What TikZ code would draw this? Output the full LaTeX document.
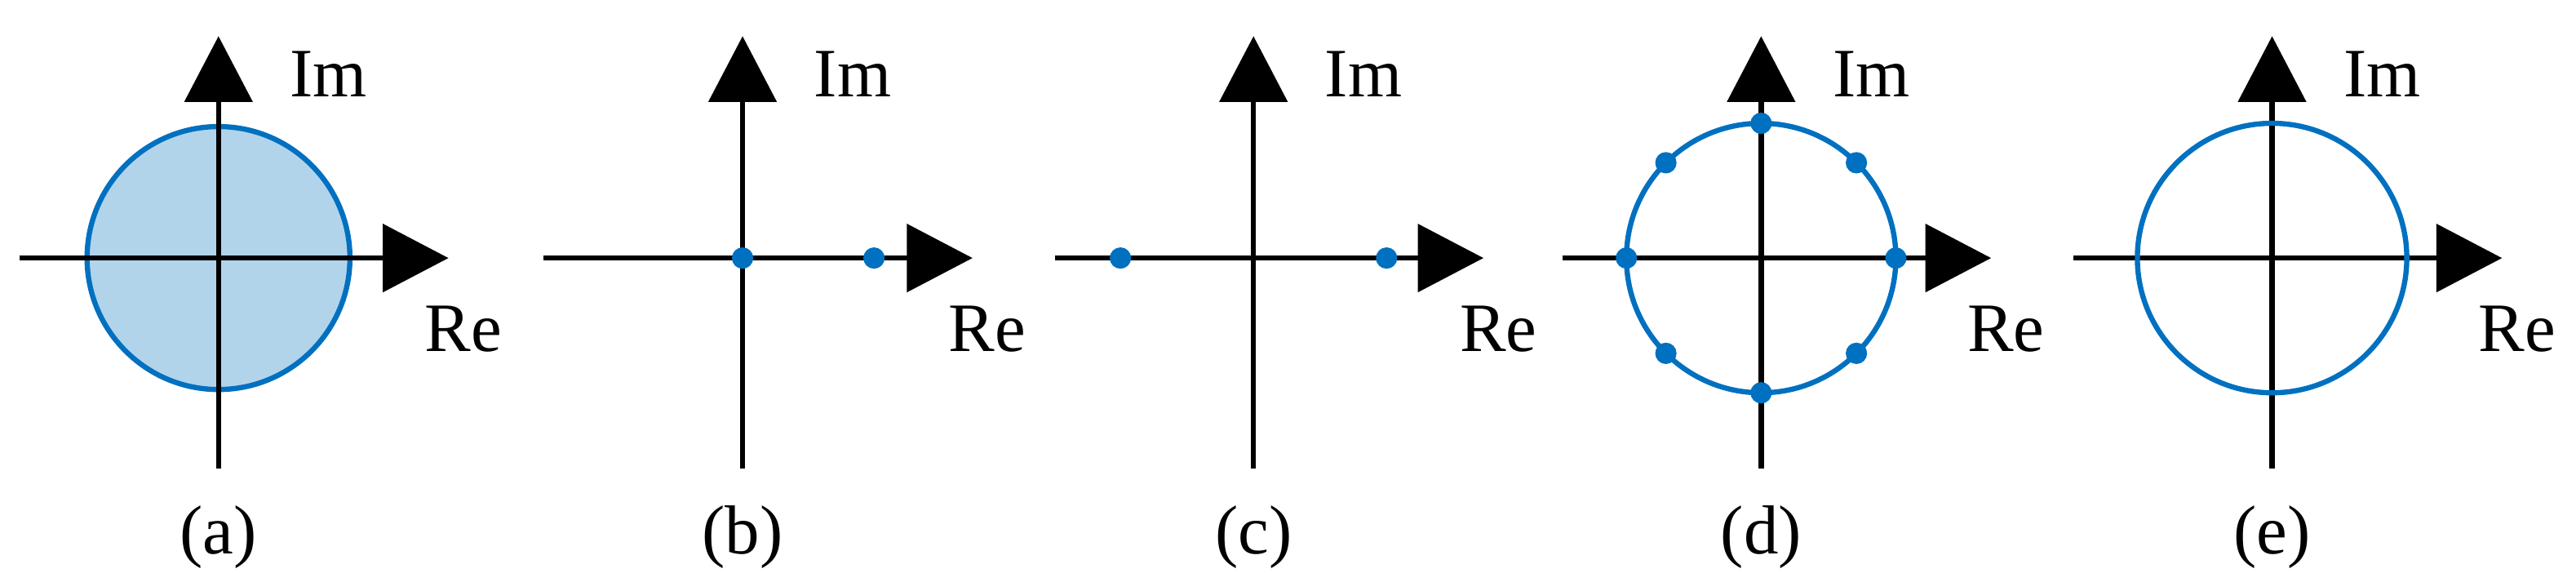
\documentclass[tikz,border=0pt]{standalone}
\usepackage{fontspec}
\setmainfont{Liberation Serif}
\usetikzlibrary{arrows.meta, positioning, calc}
\definecolor{zblue}{RGB}{0,112,192}
\definecolor{zfill}{RGB}{178,212,235}
\tikzset{
  axis/.style={line width=0.9pt, -{Triangle[length=4mm,width=4.1mm]}},
  unit/.style={zblue, line width=0.9pt},
  root/.style={circle, fill=zblue, inner sep=0pt, minimum size=1.3mm},
  lbl/.style={font=\fontsize{12}{14}\selectfont, inner sep=0pt}
}
\begin{document}
\begin{tikzpicture}[x=0.1mm, y=-0.1mm]
\useasboundingbox (0,0) rectangle (1568,354);

% axes for all five panels
\foreach \cx/\tag in {133/a,452/b,763/c,1072/d,1383/e} {
  \coordinate (o\tag) at (\cx,157);
  \coordinate (w\tag) at (\cx-121,157);
  \coordinate (e\tag) at (\cx+140,157);
  \coordinate (s\tag) at (\cx,285);
  \coordinate (n\tag) at (\cx,22);
}

% (a) filled disk
\filldraw[unit, fill=zfill] (oa) circle (80);

\foreach \tag in {a,b,c,d,e} {
  \draw[axis] (w\tag) -- (e\tag);
  \draw[axis] (s\tag) -- (n\tag);
  \node[lbl] (im\tag) at ($(o\tag)+(67,-112)$) {Im};
  \node[lbl] (re\tag) at ($(o\tag)+(149,43)$) {Re};
  \node[lbl] (cap\tag) at ($(o\tag)+(0,170)$) {(\tag)};
}

% (b) two roots
\node[root] (b1) at (ob) {};
\node[root] (b2) at ($(ob)+(80,0)$) {};

% (c) two roots
\node[root] (c1) at ($(oc)+(-81,0)$) {};
\node[root] (c2) at ($(oc)+(81,0)$) {};

% (d) roots of unity
\draw[unit] (od) circle (82);
\foreach \k in {0,...,7}
  \node[root] (d\k) at ($(od)+(\k*45:82)$) {};

% (e) unit circle
\draw[unit] (oe) circle (82);
\end{tikzpicture}
\end{document}
